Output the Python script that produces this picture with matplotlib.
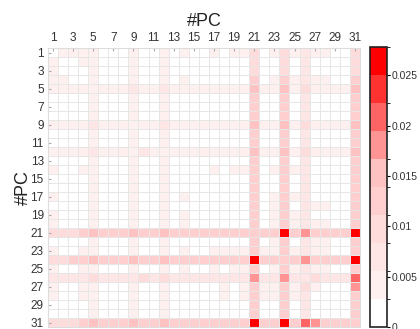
import numpy as np
import matplotlib
matplotlib.use('Agg')
import matplotlib.pyplot as plt
from matplotlib.colors import ListedColormap, BoundaryNorm

plt.rcParams['font.family'] = ['Liberation Sans', 'DejaVu Sans']

# colour level of each cell (0 = lowest band, 9 = highest), row by row for PC 1..31
levels = [
    "01111 00010 01010 01011 30131 21100 3",
    "10011 00010 01000 00000 30030 20000 3",
    "10001 00010 01000 00000 30030 20000 3",
    "11001 00010 01010 00000 40141 21100 4",
    "11111 11121 12111 11111 51151 31111 5",
    "00001 00010 01000 00000 40040 20000 4",
    "00001 00010 01000 00000 40040 20000 4",
    "00001 00010 01000 00000 40040 20000 4",
    "11112 11111 12111 11111 51151 31111 5",
    "00001 00010 01000 00000 40040 20000 4",
    "00001 00010 01000 00000 40040 20000 4",
    "11112 11112 11111 11111 51151 31111 5",
    "00001 00010 01000 00000 40040 20000 4",
    "10011 00010 01000 01011 40141 20000 4",
    "00001 00010 01000 00000 40040 20000 4",
    "00001 00010 01000 00000 40040 20000 4",
    "10001 00010 01010 00000 40141 20000 4",
    "00001 00010 01000 00000 40140 21100 4",
    "10001 00010 01010 00000 40141 20000 4",
    "10001 00010 01010 00000 40141 21100 4",
    "33345 44454 45444 44444 44494 64444 9",
    "00001 00010 01000 00000 40140 21100 4",
    "10011 00010 01010 01111 41141 21100 4",
    "33445 44454 45444 44444 94444 64444 9",
    "10011 00010 01010 01011 40141 21100 4",
    "22223 22223 23222 22222 62262 23222 7",
    "10011 00010 01000 00101 41141 31000 6",
    "10011 00010 01000 00101 41141 20000 4",
    "00001 00010 01000 00000 40040 20000 4",
    "00001 00010 01000 00000 40040 20000 4",
    "33345 44454 45444 44444 94494 76444 4",
]

# band centres of the 10-step scale running from 0 to 0.0278
band_values = [0.0007, 0.0042, 0.0070, 0.0097, 0.0125, 0.0153,
               0.0181, 0.0208, 0.0236, 0.0264]
band_edges = [0, 0.00278, 0.00556, 0.00834, 0.01112, 0.0139,
              0.01668, 0.01946, 0.02224, 0.02502, 0.0278]
band_colors = ['#ffffff', '#fff0f0', '#ffe6e6', '#ffdcdc', '#ffcece',
               '#ffc2c2', '#ff9494', '#ff6464', '#ff3232', '#ff0000']

pc = np.arange(1, 32)
tick_pcs = pc[::2]
cbar_ticks = [0, 0.005, 0.01, 0.015, 0.02, 0.025]
cbar_labels = ['0', '0.005', '0.01', '0.015', '0.02', '0.025']

grid = np.array([[band_values[int(ch)] for ch in row.replace(' ', '')]
                 for row in levels])

cmap = ListedColormap(band_colors)
norm = BoundaryNorm(band_edges, cmap.N)

fig = plt.figure(figsize=(4.2, 3.29), dpi=100)
ax = fig.add_axes([0.114, 0.006, 0.743, 0.848])
mesh = ax.pcolormesh(np.arange(0.5, 32.5), np.arange(0.5, 32.5), grid,
                     cmap=cmap, norm=norm, edgecolors='#e6e6e6', linewidth=0.5)
ax.set_xlim(0.5, 31.5)
ax.set_ylim(31.5, 0.5)
ax.set_xticks(tick_pcs)
ax.set_yticks(tick_pcs)
ax.xaxis.tick_top()
ax.tick_params(axis='both', length=2, direction='in', color='#aaaaaa',
               labelsize=8.5, labelcolor='#333333', pad=3)
for s in ax.spines.values():
    s.set_color('#dddddd')
    s.set_linewidth(0.8)
ax.set_title('#PC', fontsize=13, color='#222222', pad=16)
ax.set_ylabel('#PC', fontsize=13, color='#222222', labelpad=-1)

cax = fig.add_axes([0.881, 0.006, 0.040, 0.851])
cb = fig.colorbar(mesh, cax=cax, ticks=cbar_ticks)
cb.ax.set_yticklabels(cbar_labels)
cb.ax.tick_params(length=2.5, width=0.8, direction='out', labelsize=7.5,
                  labelcolor='#333333', pad=1)
cb.outline.set_linewidth(1.2)
cb.outline.set_edgecolor('#222222')

fig.savefig('out.png', dpi=100)
